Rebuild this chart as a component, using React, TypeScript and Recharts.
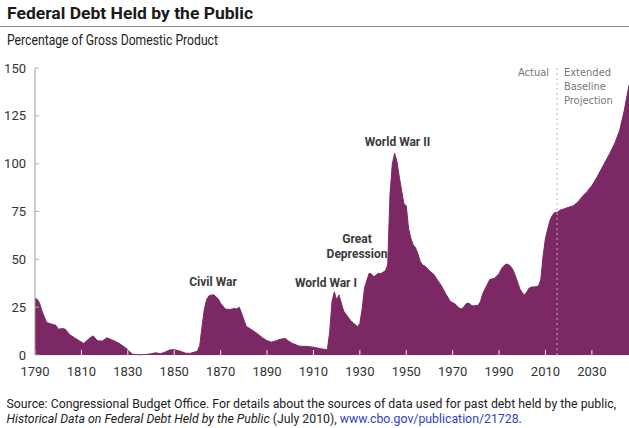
import { Area, AreaChart, ReferenceLine, XAxis, YAxis } from "recharts";

const NARROW = '"DejaVu Sans Condensed", sans-serif';
const SANS = "Roboto, sans-serif";
const PURPLE = "#7b2865";

// historical debt, percent of GDP
const actualYears = [
  1790, 1791, 1792, 1793, 1795, 1797, 1799, 1800, 1802, 1803,
  1805, 1807, 1809, 1811, 1813, 1815, 1817, 1819, 1821, 1823,
  1826, 1829, 1831, 1832, 1835, 1838, 1840, 1842, 1844, 1846,
  1848, 1850, 1852, 1855, 1857, 1860, 1861, 1862, 1863, 1864,
  1865, 1867, 1869, 1870, 1872, 1874, 1876, 1877, 1878, 1879,
  1881, 1884, 1886, 1888, 1890, 1892, 1894, 1896, 1898, 1899,
  1901, 1904, 1907, 1910, 1913, 1916, 1917, 1918, 1919, 1920,
  1921, 1923, 1926, 1929, 1930, 1931, 1932, 1934, 1935, 1936,
  1938, 1939, 1941, 1942, 1943, 1944, 1945, 1946, 1947, 1948,
  1949, 1950, 1951, 1952, 1953, 1954, 1955, 1956, 1957, 1958,
  1960, 1962, 1963, 1965, 1967, 1969, 1971, 1972, 1973, 1974,
  1975, 1976, 1977, 1978, 1979, 1981, 1982, 1983, 1985, 1986,
  1988, 1990, 1991, 1992, 1993, 1994, 1995, 1996, 1997, 1998,
  1999, 2000, 2001, 2002, 2003, 2004, 2005, 2006, 2007, 2008,
  2009, 2010, 2011, 2012, 2013, 2014, 2015,
];
const actualDebt = [
  29.6, 29, 27, 23, 17, 16.2, 15.5, 13.5, 13.8, 13.5,
  10.6, 9, 7.5, 6, 8.2, 10, 7.4, 7.3, 9, 8,
  6.3, 3.8, 1.5, 0.4, 0.1, 0.3, 0.6, 1.2, 0.6, 1.5,
  2.6, 2.8, 2.2, 0.9, 0.9, 2, 5, 15, 24, 29,
  31, 31.5, 29.3, 27, 24, 23.8, 24.3, 24, 25, 22,
  15, 12.7, 11, 9, 7.5, 6.7, 7.5, 8.3, 8.6, 7.5,
  6, 4.6, 4.5, 4.1, 3.3, 2.7, 12, 28, 33, 28.7,
  31.4, 23, 18, 14.8, 16.5, 24, 35, 42.7, 42.4, 40.9,
  42.7, 42.5, 44, 47, 84, 100, 105.4, 101, 93, 86,
  79, 78, 66, 61, 57.5, 56, 53, 49, 47, 46.5,
  44, 42, 40, 36.5, 32, 28, 26.7, 25.5, 24.4, 24,
  25.5, 27, 27, 26, 25.6, 26, 28, 32.2, 37, 39.5,
  40.1, 42.5, 45, 46.5, 47.5, 47.3, 46.3, 44.5, 41.5, 38,
  34.5, 32.5, 31.4, 33, 35, 35.5, 35.6, 35.7, 36, 39.5,
  52, 61, 66, 70.5, 73, 74.5, 74.5,
];

// extended baseline projection
const projectionYears = [
  2016, 2017, 2018, 2019, 2020, 2022, 2024, 2026, 2028, 2030,
  2032, 2034, 2036, 2038, 2040, 2042, 2044, 2046,
];
const projectionDebt = [
  75.5, 76, 76.3, 76.8, 77.2, 78, 80, 83, 85.5, 88.5,
  92.5, 97, 101.5, 106, 111, 117.5, 128, 141,
];

const xTicks = [1790, 1810, 1830, 1850, 1870, 1890, 1910, 1930, 1950, 1970, 1990, 2010, 2030];
const yTicks = [0, 25, 50, 75, 100, 125, 150];

const data = [
  ...actualYears.map((year, i) => ({ year, debt: actualDebt[i] })),
  ...projectionYears.map((year, i) => ({ year, debt: projectionDebt[i] })),
];

const events = [
  { lines: ["Civil War"], x: 213, y: 286 },
  { lines: ["World War I"], x: 326, y: 286.5 },
  { lines: ["Great", "Depression"], x: 357, y: 243 },
  { lines: ["World War II"], x: 397.5, y: 146 },
];

export default function App() {
  return (
    <div style={{ position: "absolute", left: 0, top: 0, width: 629, height: 428, background: "#fff" }}>
      <AreaChart width={629} height={428} data={data} margin={{ top: 68, right: 0, bottom: 0, left: 0 }}>
        <Area
          dataKey="debt"
          type="linear"
          fill={PURPLE}
          fillOpacity={1}
          stroke={PURPLE}
          strokeWidth={1}
          dot={false}
          activeDot={false}
          isAnimationActive={false}
        />
        <ReferenceLine x={2015} stroke="#b5b5b5" strokeWidth={1} strokeDasharray="2 3" />
        <XAxis
          dataKey="year"
          type="number"
          domain={[1790, 2046]}
          ticks={xTicks}
          interval={0}
          height={73}
          axisLine={false}
          tickSize={-5}
          tickLine={{ stroke: "#f2e6ee" }}
          tickMargin={17}
          tick={{ fontSize: 13, fill: "#333", fontFamily: SANS }}
        />
        <YAxis
          type="number"
          domain={[0, 150]}
          ticks={yTicks}
          interval={0}
          width={35}
          axisLine={{ stroke: "#9a9a9a" }}
          tickSize={-4}
          tickLine={{ stroke: "#b0b0b0" }}
          tickMargin={13}
          tick={{ fontSize: 13, fill: "#333", fontFamily: SANS }}
        />
      </AreaChart>

      <svg width={629} height={428} style={{ position: "absolute", left: 0, top: 0, pointerEvents: "none" }}>
        <text
          x={7}
          y={18.5}
          fontFamily={SANS}
          fontWeight={700}
          fontSize={17}
          fill="#1a1a1a"
          textLength={246}
          lengthAdjust="spacingAndGlyphs"
        >
          Federal Debt Held by the Public
        </text>
        <line x1={0} x2={629} y1={26.5} y2={26.5} stroke="#8c8c8c" strokeWidth={1} />
        <text
          x={7}
          y={45}
          fontFamily={SANS}
          fontSize={14}
          fill="#222"
          textLength={211}
          lengthAdjust="spacingAndGlyphs"
        >
          Percentage of Gross Domestic Product
        </text>

        {events.map((ev) =>
          ev.lines.map((line, i) => (
            <text
              key={line}
              x={ev.x}
              y={ev.y + i * 15}
              textAnchor="middle"
              fontFamily={SANS}
              fontWeight={700}
              fontSize={12}
              fill="#3a3a3a"
            >
              {line}
            </text>
          ))
        )}

        <text x={549} y={75.5} textAnchor="end" fontFamily={NARROW} fontSize={11} fill="#777">
          Actual
        </text>
        <text fontFamily={NARROW} fontSize={11} fill="#777">
          <tspan x={564} y={75.5}>Extended</tspan>
          <tspan x={564} y={89.5}>Baseline</tspan>
          <tspan x={564} y={103.5}>Projection</tspan>
        </text>

        <text x={6.5} y={408} fontFamily={SANS} fontSize={12.3} fill="#222">
          Source: Congressional Budget Office. For details about the sources of data used for past debt held by the public,
        </text>
        <text x={6.5} y={423} fontFamily={SANS} fontSize={12.3} fill="#222">
          <tspan fontStyle="italic">Historical Data on Federal Debt Held by the Public</tspan>
          <tspan> (July 2010), </tspan>
          <tspan fill="#2f3fcc">www.cbo.gov/publication/21728</tspan>
          <tspan>.</tspan>
        </text>
      </svg>
    </div>
  );
}
